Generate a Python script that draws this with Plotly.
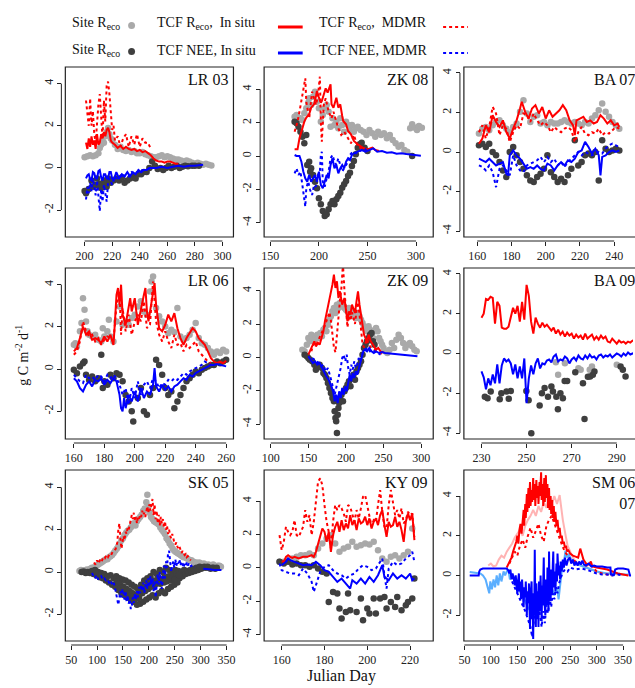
import plotly.graph_objects as go

# ---------------- LR 03 ----------------
lr03_site_reco = [(200,0.5),(202,0.55),(204,0.6),(206,0.55),(208,0.6),(210,0.7),(211,0.95),(212,1.1),(213,1.3),(214,1.2),(215,1.5),(216,1.7),(217,1.9),(218,1.6),(219,1.4),(220,1.3),(222,1.1),(224,0.9),(226,1.0),(228,0.85),(230,0.8),(232,0.85),(234,0.75),(236,0.8),(238,0.7),(240,0.7),(242,0.75),(244,0.65),(246,0.6),(248,0.55),(250,0.5),(252,0.5),(254,0.55),(256,0.6),(258,0.5),(260,0.55),(262,0.5),(264,0.45),(266,0.4),(268,0.4),(270,0.35),(272,0.3),(274,0.35),(276,0.3),(278,0.25),(280,0.2),(282,0.25),(284,0.2),(286,0.15),(288,0.2),(290,0.15),(292,0.12)]
lr03_site_nee = [(200,-1.1),(201,-1.2),(203,-1.0),(205,-0.6),(206,-0.9),(208,-0.8),(209,-0.5),(210,-0.85),(211,-0.75),(212,-0.95),(213,-0.8),(214,-0.6),(215,-0.8),(216,-0.9),(217,-0.5),(218,-0.65),(219,-0.7),(221,-0.6),(223,-0.5),(225,-0.6),(227,-0.45),(229,-0.7),(231,-0.6),(233,-0.5),(235,-0.4),(237,-0.5),(239,-0.3),(241,-0.3),(243,-0.2),(245,-0.2),(247,0.0),(249,0.3),(251,0.1),(253,-0.05),(255,0.0),(257,-0.1),(259,0.0),(261,0.1),(263,0.0),(265,0.05),(267,0.1),(269,0.0),(271,0.05),(273,0.1),(275,0.08),(278,0.1),(280,0.1),(283,0.1)]
lr03_tcf_reco = [(201,1.2),(202,0.9),(203,1.4),(204,1.0),(205,1.5),(206,1.1),(207,1.3),(208,0.9),(209,1.6),(210,1.1),(211,1.2),(212,1.6),(213,1.4),(214,1.7),(215,1.5),(216,1.8),(217,1.9),(218,1.7),(219,1.3),(220,1.2),(222,1.1),(224,0.95),(226,1.05),(228,0.9),(230,1.0),(232,0.9),(234,0.85),(236,0.9),(238,0.8),(240,0.85),(242,0.75),(244,0.8),(246,0.7),(248,0.6),(250,0.45),(252,0.35),(254,0.3),(256,0.3),(258,0.25),(260,0.3),(262,0.3),(264,0.25),(266,0.2),(268,0.2)]
lr03_mdmr_reco = [(201,3.2),(202,2.6),(203,2.0),(204,3.3),(205,2.0),(206,2.7),(207,1.6),(208,1.2),(209,2.2),(210,3.0),(211,3.5),(212,2.2),(213,1.4),(214,3.2),(215,2.2),(216,3.9),(217,4.1),(218,3.5),(219,2.5),(220,1.8),(221,2.0),(222,1.3),(224,1.5),(226,1.0),(228,1.4),(230,1.6),(232,1.0),(234,1.5),(236,1.1),(238,1.6),(240,1.0),(242,1.4),(244,1.2),(246,1.2),(248,0.9)]
lr03_tcf_nee = [(201,-0.5),(202,-0.35),(203,-0.3),(204,-0.55),(205,-0.6),(206,-0.2),(207,-0.25),(208,-0.5),(209,-0.5),(210,-0.15),(211,-0.1),(212,-0.45),(213,-0.6),(214,-0.3),(215,-0.3),(216,-0.5),(217,-0.5),(218,-0.2),(219,-0.2),(220,-0.5),(221,-0.6),(223,-0.2),(225,-0.5),(227,-0.3),(229,-0.4),(231,-0.2),(233,-0.4),(235,-0.2),(237,-0.3),(239,-0.1),(241,-0.2),(243,-0.1),(245,-0.1),(247,0.0),(249,0.0),(252,0.0),(256,0.05),(260,0.0),(264,0.05),(268,0.1),(272,0.05),(276,0.1),(280,0.1),(284,0.15),(286,0.15)]
lr03_mdmr_nee = [(201,-1.5),(202,-0.9),(203,-1.2),(204,-0.7),(205,-1.1),(206,-0.5),(207,-0.9),(208,-1.3),(209,-0.6),(210,-1.5),(211,-2.05),(212,-1.0),(213,-1.6),(214,-0.8),(215,-1.3),(216,-1.6),(217,-0.7),(218,-0.5),(220,-0.8),(222,-0.4),(224,-0.6),(226,-0.3),(228,-0.5),(230,-0.3),(232,-0.4),(234,-0.2),(236,-0.3),(238,-0.2),(240,-0.2),(242,-0.1),(244,-0.1),(246,-0.05),(248,0.0)]

# ---------------- ZK 08 ----------------
zk08_site_reco = [(175,2.36),(177,2.46),(179,2.2),(181,2.26),(183,2.16),(185,2.56),(187,2.86),(189,3.2),(190,3.46),(192,3.06),(194,3.56),(196,3.86),(198,3.26),(200,2.86),(202,2.06),(204,2.46),(206,2.86),(208,3.06),(210,2.66),(212,1.76),(214,2.26),(216,1.86),(218,2.06),(220,1.66),(222,2.26),(224,1.86),(226,1.46),(228,2.06),(230,1.86),(232,1.56),(234,1.86),(236,1.46),(238,1.66),(240,1.76),(243,1.56),(246,1.46),(249,1.26),(252,1.56),(255,1.36),(258,1.16),(261,1.46),(264,1.26),(267,1.36),(270,1.06),(273,1.26),(276,0.96),(279,0.76),(282,0.56),(285,0.66),(288,0.36),(291,0.26),(294,1.66),(296,1.9),(299,1.7),(301,1.56),(303,1.8),(306,1.7)]
zk08_site_nee = [(175,2.06),(177,1.96),(179,1.76),(181,1.46),(183,1.16),(185,0.76),(187,1.26),(188,-0.54),(190,-0.34),(191,-0.94),(192,-0.74),(194,-1.14),(196,-1.54),(198,-1.94),(200,-2.54),(202,-2.9),(204,-3.3),(206,-3.6),(208,-3.5),(210,-3.2),(212,-2.9),(214,-2.7),(216,-2.9),(218,-2.6),(220,-2.4),(222,-2.2),(224,-1.9),(226,-1.7),(228,-1.5),(230,-1.2),(232,-1.0),(234,-0.6),(236,-0.3),(238,0.1),(240,0.5),(242,0.7),(244,0.8),(247,0.5),(250,0.3),(296,0.0)]
zk08_tcf_reco = [(175,0.4),(178,0.4),(180,1.06),(182,1.5),(184,1.9),(185,2.06),(187,2.3),(190,2.5),(192,2.9),(195,3.1),(197,3.6),(198,3.9),(200,3.5),(202,3.2),(203,3.3),(205,3.7),(207,4.06),(209,3.8),(211,4.2),(212,4.3),(213,3.1),(215,2.9),(217,3.3),(218,3.5),(220,2.9),(222,3.1),(224,2.4),(225,2.1),(228,1.9),(230,1.5),(233,1.3),(236,0.9),(240,0.7),(245,0.5),(250,0.4),(255,0.5),(258,0.36),(262,0.3)]
zk08_mdmr_reco = [(175,1.46),(178,2.06),(180,2.66),(183,3.66),(186,4.66),(187,3.26),(190,2.26),(193,3.86),(195,3.46),(197,3.06),(199,3.6),(201,4.76),(202,2.06),(203,0.86),(205,3.06),(207,3.46),(210,2.66),(213,2.26),(215,2.66),(218,2.06),(220,1.66),(223,1.26),(226,1.46),(230,1.06),(233,0.76),(236,1.26),(240,0.56),(245,0.46),(250,0.26)]
zk08_tcf_nee = [(175,0.06),(177,0.0),(180,0.0),(182,-0.34),(184,-0.94),(186,-1.34),(188,-1.54),(190,-1.14),(192,-1.54),(194,-1.34),(196,-1.14),(198,-1.54),(200,-0.94),(202,-1.74),(204,-1.94),(206,-1.54),(208,-1.14),(210,-1.34),(212,-0.54),(214,-0.14),(216,-0.74),(218,-0.54),(220,-1.04),(222,-0.74),(224,-0.54),(226,-0.74),(228,-0.34),(230,-0.14),(232,-0.24),(234,0.06),(236,0.16),(240,0.26),(244,0.36),(248,0.26),(252,0.36),(256,0.46),(260,0.26),(265,0.3),(270,0.2),(275,0.22),(280,0.14),(285,0.16),(290,0.12),(295,0.1),(300,0.06),(305,0.02)]
zk08_mdmr_nee = [(175,-1.04),(177,-0.74),(179,-1.14),(181,-0.94),(183,-1.74),(186,-3.04),(187,-1.94),(189,-1.54),(191,-2.04),(193,-2.34),(195,-1.74),(197,-1.84),(199,-1.14),(201,-0.94),(202,0.06),(203,0.26),(204,-1.54),(206,-1.84),(208,-1.34),(210,-0.94),(212,-0.14),(214,0.06),(216,-0.34),(218,-0.54),(220,-0.14),(222,-0.54),(224,-0.94),(226,-0.74),(228,-0.54),(230,-0.34),(232,0.06),(235,0.26),(238,0.16),(241,0.26),(244,0.36),(247,0.46),(250,0.26)]

# ---------------- BA 07 ----------------
ba07_site_reco = [(161,0.93),(163,1.18),(165,1.27),(167,1.1),(169,1.35),(171,1.52),(173,1.6),(175,1.35),(177,1.18),(179,1.0),(181,1.27),(183,1.44),(185,2.03),(187,2.62),(189,1.95),(191,1.52),(193,1.78),(195,1.86),(197,1.44),(199,1.52),(201,1.35),(203,1.52),(205,1.44),(207,1.44),(209,1.52),(211,1.6),(213,1.52),(215,1.44),(217,1.52),(219,1.44),(221,1.35),(223,1.52),(225,1.44),(227,1.69),(229,1.86),(231,2.11),(233,2.45),(235,2.03),(237,1.78),(239,1.52),(241,1.35),(243,1.18)]
ba07_site_nee = [(161,0.34),(163,0.42),(165,0.25),(167,0.42),(169,0.0),(171,-0.17),(173,-0.51),(175,-0.93),(177,-1.27),(179,0.0),(181,0.25),(183,-0.17),(185,-0.51),(187,-0.85),(189,-1.18),(191,-1.44),(193,-1.52),(195,-1.27),(197,-1.1),(199,-0.85),(201,-0.17),(203,-1.02),(205,-1.27),(207,-1.52),(209,-1.35),(211,-1.52),(213,-1.18),(215,-0.85),(217,0.59),(219,-0.68),(221,-0.51),(223,-0.17),(225,-0.08),(227,-0.17),(229,0.0),(231,-1.44),(233,0.59),(235,0.17),(237,0.0),(239,0.08),(241,0.17),(243,0.08)]
ba07_tcf_reco = [(161,0.42),(163,0.68),(165,1.35),(167,1.0),(169,1.86),(171,1.52),(173,1.27),(175,1.6),(177,1.0),(179,0.68),(181,1.18),(183,1.6),(185,2.2),(186,2.54),(188,2.03),(190,1.69),(192,2.2),(194,2.37),(196,1.95),(198,2.28),(200,1.69),(202,2.11),(204,1.78),(206,1.95),(208,2.11),(210,2.37),(212,2.11),(214,1.6),(216,1.35),(217,0.85),(218,1.6),(220,1.69),(222,1.78),(224,1.52),(226,1.6),(228,1.44),(230,1.52),(232,1.86),(234,1.69),(236,1.44),(238,1.6),(240,1.35),(242,1.44),(243,1.27)]
ba07_mdmr_reco = [(161,1.0),(163,1.35),(165,0.68),(167,1.27),(169,2.28),(171,1.95),(173,0.85),(175,1.35),(177,1.18),(179,0.5),(181,1.0),(183,1.35),(185,1.18),(187,1.95),(189,1.86),(191,1.52),(193,1.95),(195,1.6),(197,1.35),(199,1.52),(201,1.35),(203,1.0),(205,1.27),(207,1.1),(209,1.0),(211,1.18),(213,1.27),(215,1.1),(217,0.5),(219,1.0),(221,1.27),(223,0.93),(225,0.85),(227,1.0),(229,0.93),(231,1.18),(233,0.85),(235,1.0),(237,0.93),(239,1.1),(241,1.27),(243,1.18)]
ba07_tcf_nee = [(161,-0.34),(163,-0.42),(165,-0.51),(167,-0.34),(169,-0.51),(171,-0.68),(173,-0.59),(175,-0.51),(177,-1.1),(178,-1.18),(179,-0.17),(181,0.08),(183,-0.17),(185,-0.34),(187,-0.59),(189,-0.85),(191,-0.76),(193,-0.85),(195,-0.68),(197,-0.85),(199,-0.93),(201,-0.59),(203,-0.68),(205,-0.93),(207,-0.68),(209,-0.51),(211,-0.68),(213,-0.42),(215,-0.51),(217,-0.34),(219,0.0),(221,0.08),(223,0.51),(225,0.25),(227,-0.08),(229,0.17),(231,-0.17),(232,-1.18),(233,-0.25),(235,-0.17),(237,0.0),(239,0.08),(241,0.0),(243,0.08)]
ba07_mdmr_nee = [(161,-0.68),(163,-0.76),(165,-0.93),(167,-0.68),(169,-1.02),(171,-1.78),(173,-0.85),(175,-0.68),(177,-0.93),(179,-1.18),(181,-0.17),(183,-0.68),(185,-0.93),(187,-1.02),(189,-0.68),(191,-0.59),(193,-0.51),(195,-0.42),(197,-0.25),(199,-0.51),(201,-0.25),(203,-0.51),(205,-0.34),(207,-0.68),(209,-0.51),(211,-0.76),(213,-0.51),(215,-0.34),(217,-0.17),(219,0.0),(221,-0.17),(223,0.0),(225,-0.08),(227,-0.17),(229,-0.08),(231,0.0),(233,-0.08),(235,0.17),(237,0.34),(239,0.42),(241,0.34),(243,0.25)]

# ---------------- LR 06 ----------------
lr06_site_reco = [(160,1.15),(161,1.23),(162,1.07),(164,1.79),(165,2.18),(166,3.36),(167,2.81),(168,2.26),(169,1.79),(170,1.63),(172,1.55),(174,1.63),(176,1.39),(178,1.31),(179,1.94),(180,1.55),(182,1.79),(183,2.34),(184,1.55),(186,1.31),(188,2.26),(190,2.97),(192,2.1),(194,2.26),(196,2.1),(198,2.42),(200,2.58),(202,2.97),(204,3.21),(206,2.73),(208,2.58),(210,3.68),(211,4.15),(212,4.39),(214,2.89),(216,2.5),(218,2.26),(220,2.02),(222,1.7),(224,1.86),(226,1.75),(228,2.89),(230,1.55),(232,1.39),(234,1.47),(236,1.63),(238,1.86),(240,2.18),(242,1.47),(244,1.23),(246,1.15),(248,1.0),(250,0.84),(252,0.68),(254,0.84),(256,0.76),(258,0.92),(260,0.84)]
lr06_site_nee = [(160,-0.03),(162,-0.19),(164,0.13),(166,0.28),(167,0.36),(168,-0.27),(170,-0.51),(172,-0.35),(174,-0.58),(176,-0.43),(178,0.68),(179,-0.9),(180,-0.58),(182,-0.74),(184,-0.27),(186,-0.43),(188,-0.19),(190,-0.27),(192,-0.58),(194,-1.22),(196,-1.53),(198,-2.0),(199,-2.48),(202,-1.37),(204,-0.9),(206,-2.0),(208,-2.16),(210,-1.22),(212,-0.9),(214,0.44),(216,0.2),(218,-0.27),(220,-0.9),(222,-1.22),(224,-1.06),(226,-1.85),(228,-1.53),(230,-1.22),(232,-0.9),(234,-0.58),(236,-0.43),(238,-0.27),(240,-0.11),(242,-0.19),(244,-0.03),(246,0.05),(248,0.13),(250,0.2),(252,0.2),(254,0.36),(256,0.28),(258,0.36),(260,0.44)]
lr06_tcf_reco = [(160,0.84),(162,1.0),(164,1.47),(165,1.7),(166,2.02),(168,1.63),(170,1.79),(172,1.39),(174,1.47),(176,1.39),(178,1.23),(180,1.55),(182,1.31),(184,1.63),(186,1.15),(187,2.26),(188,3.52),(189,3.84),(190,3.05),(191,4.0),(192,2.58),(194,2.1),(196,3.05),(197,3.36),(198,2.73),(200,3.36),(202,2.1),(204,2.89),(206,3.52),(207,3.84),(208,2.73),(209,2.26),(210,2.73),(212,3.68),(213,4.08),(214,3.05),(216,1.94),(218,1.79),(220,2.1),(222,2.58),(224,2.26),(226,2.65),(228,1.94),(230,1.47),(232,1.15),(234,1.47),(236,1.7),(238,1.94),(240,1.79),(242,1.47),(244,1.31),(246,1.15),(248,0.84),(250,0.52),(252,0.36),(254,0.28),(256,0.36),(258,0.28),(260,0.39)]
lr06_mdmr_reco = [(160,0.68),(162,0.84),(164,1.31),(166,2.26),(168,1.79),(170,1.55),(172,1.63),(174,1.31),(176,1.47),(178,1.15),(180,1.39),(182,1.55),(184,1.47),(186,1.31),(188,3.05),(190,3.68),(191,1.63),(192,2.89),(194,1.79),(196,2.58),(198,1.63),(200,2.26),(202,2.58),(204,2.26),(206,3.21),(208,1.94),(210,2.1),(212,4.15),(214,2.26),(216,1.63),(218,1.31),(220,1.79),(222,1.31),(224,1.0),(226,1.63),(228,1.15),(230,1.23),(232,0.84),(234,1.15),(236,1.0),(238,1.15),(240,1.31),(242,0.84),(244,0.68),(246,0.52),(248,0.36),(250,0.28)]
lr06_tcf_nee = [(160,-0.43),(162,-0.58),(164,-0.9),(166,-1.06),(168,-0.74),(170,-0.58),(172,-0.82),(174,-0.51),(176,-0.58),(178,-0.43),(180,-0.74),(182,-0.51),(184,-0.66),(186,-0.43),(188,-0.58),(190,-1.22),(191,-1.85),(192,-2.0),(193,-1.37),(194,-1.85),(196,-1.22),(198,-1.53),(200,-1.06),(202,-1.53),(204,-0.9),(206,-1.37),(208,-1.06),(210,-1.22),(212,-0.74),(213,0.05),(214,-0.82),(216,-1.06),(218,-0.74),(220,-0.98),(222,-0.82),(224,-1.06),(226,-0.82),(228,-0.74),(230,-0.58),(232,-0.43),(234,-0.51),(236,-0.27),(238,-0.35),(240,-0.19),(242,-0.11),(244,-0.03),(246,0.05),(248,0.13),(250,0.2),(252,0.2),(254,0.24),(256,0.2),(258,0.16),(260,0.13)]
lr06_mdmr_nee = [(160,-0.27),(162,-0.43),(164,-0.58),(166,-0.66),(168,-0.27),(170,-0.43),(172,-0.35),(174,-0.51),(176,-0.27),(178,-0.35),(180,-0.58),(182,-0.27),(184,-0.43),(186,-0.27),(188,-0.43),(190,-0.74),(192,-1.22),(194,-0.9),(196,-1.69),(198,-0.9),(200,-1.37),(202,-0.58),(204,-1.22),(206,-0.74),(208,-0.58),(210,-0.9),(212,-0.43),(214,-0.58),(216,-0.9),(218,-0.66),(220,-0.74),(222,-0.51),(224,-0.58),(226,-0.43),(228,-0.51),(230,-0.35),(232,-0.19),(234,-0.27),(236,-0.11),(238,-0.03),(240,0.05),(242,0.13),(244,0.2),(246,0.36),(248,0.28),(250,0.2)]

# ---------------- ZK 09 ----------------
zk09_site_reco = [(142,0.46),(145,0.36),(148,0.76),(150,1.16),(152,0.96),(154,1.36),(156,1.16),(158,1.06),(160,1.26),(162,1.36),(164,1.16),(166,1.46),(168,1.26),(170,1.66),(172,1.76),(174,1.56),(176,1.96),(178,2.26),(180,2.46),(182,2.76),(184,2.96),(186,2.66),(188,3.16),(190,2.96),(192,3.26),(194,3.06),(196,3.16),(198,2.96),(200,2.86),(202,2.76),(204,2.96),(206,2.66),(208,2.46),(210,2.76),(212,2.56),(214,2.36),(216,2.66),(218,2.46),(220,2.26),(222,2.06),(224,1.86),(226,1.66),(228,1.56),(230,1.86),(232,1.66),(234,1.36),(236,1.16),(238,1.56),(240,1.76),(242,1.56),(244,1.16),(246,0.96),(248,0.76),(250,0.56),(252,0.36),(255,0.26),(258,0.46),(261,0.86),(264,0.56),(267,1.06),(270,1.36),(273,1.16),(276,0.86),(279,0.56),(282,0.76),(285,0.86),(288,0.66),(291,0.46),(294,0.36)]
zk09_site_nee = [(145,0.16),(148,0.06),(150,-0.04),(152,-0.14),(155,-0.24),(158,-0.44),(160,-0.74),(162,-0.54),(165,-0.44),(168,-0.64),(170,-0.94),(172,-1.04),(174,-1.24),(176,-1.54),(178,-1.84),(180,-2.14),(182,-2.44),(184,-2.64),(185,-3.24),(186,-3.64),(187,-3.84),(188,-4.54),(189,-3.44),(190,-3.04),(191,-2.74),(192,-2.44),(194,-2.24),(196,-2.64),(198,-2.04),(200,-1.84),(202,-1.64),(204,-1.44),(206,-1.74),(208,-1.24),(210,-1.04),(212,-1.34),(214,-0.84),(216,-0.64),(218,-0.44),(220,-0.24),(222,0.16),(224,0.56),(226,0.76),(228,0.96),(230,1.16),(232,1.36),(234,1.46),(236,0.96),(238,0.76)]
zk09_tcf_reco = [(150,0.16),(152,0.36),(155,0.66),(158,0.96),(160,0.66),(163,0.86),(165,0.76),(168,1.16),(170,1.56),(172,2.16),(175,2.76),(178,3.36),(180,3.96),(182,4.36),(184,4.96),(186,4.16),(188,4.56),(190,3.56),(192,3.96),(195,3.16),(198,3.56),(200,2.66),(202,2.16),(204,2.76),(206,2.56),(208,3.16),(210,2.96),(212,2.66),(214,3.36),(216,3.96),(218,3.16),(220,2.56),(222,1.76),(224,1.36),(226,1.16),(228,0.86),(230,1.36),(233,0.96),(236,0.76),(240,0.46),(243,0.56),(246,0.36),(250,0.3)]
zk09_mdmr_reco = [(154,0.36),(157,0.8),(160,0.7),(163,1.0),(166,1.2),(169,1.5),(172,1.9),(175,2.3),(178,2.7),(180,2.2),(182,1.5),(184,0.6),(186,0.3),(188,1.5),(190,2.6),(192,3.4),(194,4.2),(196,5.6),(198,4.0),(200,2.8),(202,1.8),(204,2.5),(206,2.2),(208,2.7),(210,2.4),(212,2.0),(214,2.8),(216,3.3),(218,2.6),(220,1.6),(222,0.8),(224,0.6),(226,0.9),(228,1.1),(230,0.8),(233,0.6),(236,0.5),(240,0.4),(244,0.3),(248,0.2)]
zk09_tcf_nee = [(150,0.06),(153,-0.14),(156,-0.34),(159,-0.24),(162,-0.44),(165,-0.34),(168,-0.64),(171,-0.84),(174,-1.14),(177,-1.34),(180,-1.64),(183,-2.04),(185,-2.64),(187,-2.24),(189,-2.74),(191,-2.04),(193,-2.44),(195,-1.84),(197,-2.24),(199,-1.74),(201,-2.04),(203,-1.44),(205,-1.04),(207,-1.44),(209,-0.94),(211,-1.24),(213,-0.84),(215,-1.04),(217,-0.64),(219,-0.44),(221,-0.04),(223,0.36),(225,0.46),(228,0.36),(231,0.56),(234,0.36),(237,0.26),(240,0.36),(244,0.26),(248,0.32),(252,0.26),(256,0.24),(260,0.26),(265,0.22),(270,0.2),(275,0.16),(280,0.16),(285,0.12),(290,0.1),(295,0.06)]
zk09_mdmr_nee = [(155,-0.04),(158,-0.14),(161,-0.24),(164,-0.34),(167,-0.54),(170,-0.44),(173,-0.84),(176,-0.64),(179,-1.14),(181,-1.44),(183,-1.84),(185,-2.24),(187,-1.84),(189,-1.44),(191,-1.04),(193,-0.64),(195,-0.04),(197,0.16),(199,-0.24),(201,0.16),(203,-0.64),(205,-1.04),(207,-0.44),(209,-0.74),(211,-0.24),(213,-0.64),(215,-0.44),(217,-0.04),(219,-0.24),(221,0.16),(223,0.36),(226,0.46),(229,0.56),(232,0.36),(235,0.46),(238,0.36),(242,0.26),(246,0.16)]

# ---------------- BA 09 ----------------
ba09_site_reco = [(263,-0.44),(264,-1.07),(267,-0.49),(273,-0.74),(274,-0.82),(278,-0.82),(279,-0.65),(290,-0.57)]
ba09_site_nee = [(231.5,-2.17),(232.7,-2.25),(234.1,-1.91),(238.1,-2.3),(238.8,-2.0),(241.1,-1.91),(242.1,-2.28),(243,-1.88),(249.9,-1.88),(250.9,-2.35),(252.1,-4.01),(255.8,-2.62),(256.8,-2.0),(258,-1.74),(259.5,-2.17),(261,-1.66),(261.7,-1.91),(263.2,-2.17),(263.9,-2.8),(265,-2.0),(266.1,-2.25),(266.9,-1.38),(268,-1.38),(271.6,-0.94),(275,-1.49),(275.7,-3.29),(277.2,-1.17),(278.2,-1.16),(279.4,-1.07),(280.1,-0.9),(291.7,-0.65),(292.7,-0.82),(293.9,-1.16)]
ba09_tcf_reco = [(230,1.8),(231,2.0),(232,2.75),(233,2.7),(234,2.85),(235,2.8),(236,1.5),(237,2.6),(238,2.4),(239,1.3),(240,1.25),(241,1.25),(242,1.35),(243,1.9),(244,2.3),(245,2.0),(246,2.4),(247,1.6),(248,2.6),(249,1.7),(250,3.45),(251,2.9),(252,1.6),(253,1.0),(254,1.8),(255,1.5),(256,1.3),(257,1.55),(258,1.35),(259,1.45),(260,1.3),(261,1.15),(262,1.3),(263,1.0),(264,1.2),(265,0.95),(266,1.1),(267,0.85),(268,1.05),(269,0.9),(270,1.0),(271,0.75),(272,0.95),(273,0.8),(274,0.9),(275,0.7),(276,1.0),(277,0.75),(278,0.85),(279,0.95),(280,0.7),(281,0.85),(282,0.7),(283,0.9),(284,0.75),(285,0.85),(286,0.6),(287,0.55),(288,0.75),(289,0.6),(290,0.5),(291,0.65),(292,0.55),(293,0.6),(294,0.5),(295,0.6),(296,0.55),(297,0.65),(298,0.6)]
ba09_tcf_nee = [(230,-0.9),(231,-1.2),(232,-1.8),(233,-1.25),(234,-1.6),(235,-1.05),(236,-1.5),(237,-0.55),(238,-1.5),(239,-0.6),(240,-0.25),(241,-0.4),(242,-0.3),(243,-0.5),(244,-1.05),(245,-0.55),(246,-1.25),(247,-0.65),(248,-1.25),(249,-0.25),(250,-2.5),(251,-1.25),(252,-0.6),(253,-1.05),(254,-0.5),(255,-0.25),(256,-0.75),(257,-0.5),(258,-0.55),(259,-0.35),(260,-0.3),(261,-0.45),(262,-0.15),(263,-0.05),(264,-0.4),(265,-0.3),(266,-0.35),(267,-0.15),(268,-0.25),(269,-0.5),(270,-0.3),(271,-0.2),(272,-0.35),(273,-0.1),(274,-0.25),(275,-0.3),(276,-0.1),(277,-0.25),(278,-0.05),(279,-0.2),(280,-0.15),(281,-0.3),(282,-0.1),(283,-0.05),(284,-0.2),(285,-0.1),(286,-0.15),(287,-0.05),(288,-0.2),(289,-0.1),(290,0.0),(291,-0.05),(292,-0.15),(293,0.0),(294,-0.1),(295,0.05),(296,-0.05),(297,0.0),(298,0.05)]

# ---------------- SK 05 ----------------
sk05_site_reco = [(66,0.05),(69,0.1),(72,0.05),(75,0.08),(78,0.1),(81,0.12),(84,0.1),(87,0.15),(90,0.2),(93,0.18),(96,0.25),(99,0.3),(102,0.35),(105,0.4),(108,0.45),(111,0.5),(114,0.55),(117,0.6),(120,0.6),(123,0.7),(126,0.75),(129,0.8),(132,0.9),(135,1.0),(138,1.1),(141,1.2),(144,1.35),(147,1.5),(150,1.6),(153,1.75),(156,1.85),(159,1.95),(162,2.0),(165,2.1),(168,2.2),(171,2.3),(174,2.2),(177,2.4),(180,2.5),(183,2.6),(186,2.7),(189,2.9),(192,3.0),(195,3.3),(197,3.65),(199,3.1),(201,2.8),(204,2.6),(207,2.5),(210,2.4),(213,2.35),(216,2.3),(219,2.25),(222,2.1),(225,2.0),(228,1.9),(231,1.8),(234,1.6),(237,1.5),(240,1.35),(243,1.25),(246,1.1),(249,1.0),(252,0.95),(255,0.9),(258,0.85),(261,0.8),(264,0.75),(267,0.7),(270,0.7),(273,0.65),(276,0.6),(279,0.55),(282,0.55),(285,0.5),(288,0.45),(291,0.45),(294,0.4),(297,0.45),(300,0.4),(303,0.35),(306,0.4),(309,0.35),(312,0.3),(315,0.35),(318,0.3),(321,0.3),(324,0.35),(327,0.3),(330,0.25),(333,0.3),(336,0.3),(339,0.25)]
sk05_site_nee = [(70,0.0),(74,0.02),(78,-0.05),(82,0.0),(86,-0.05),(90,0.05),(93,-0.1),(96,0.1),(99,-0.15),(102,0.0),(105,-0.25),(108,-0.05),(111,-0.3),(114,-0.1),(117,-0.4),(120,-0.2),(123,-0.5),(126,-0.15),(129,-0.6),(132,-0.3),(135,-0.7),(137,-0.2),(139,-0.5),(141,-0.85),(143,-0.3),(145,-0.6),(147,-1.0),(149,-0.35),(151,-0.7),(153,-1.1),(155,-0.4),(157,-0.8),(159,-1.2),(161,-0.5),(163,-0.9),(165,-1.3),(167,-0.6),(169,-1.0),(171,-1.4),(173,-0.7),(175,-1.1),(177,-1.55),(179,-0.8),(181,-1.2),(183,-1.5),(185,-0.6),(187,-1.0),(189,-1.4),(191,-0.4),(193,-0.9),(195,-1.3),(197,-0.3),(199,-0.8),(201,-1.2),(203,-0.2),(205,-0.7),(207,-1.1),(209,0.0),(211,-0.6),(213,-1.2),(215,-0.1),(217,-0.5),(219,-1.0),(221,0.1),(223,-0.4),(225,-0.9),(227,0.0),(229,-0.5),(231,-1.0),(233,0.2),(235,-0.3),(237,-0.8),(239,0.1),(241,-0.4),(243,-0.7),(245,0.0),(247,-0.3),(249,-0.6),(251,0.1),(253,-0.2),(255,-0.5),(257,0.05),(259,-0.3),(262,0.0),(265,-0.2),(268,0.1),(271,-0.1),(274,0.05),(277,-0.05),(280,0.1),(283,0.0),(286,0.15),(289,0.05),(292,0.2),(295,0.1),(298,0.25),(301,0.15),(304,0.2),(307,0.25),(310,0.2),(313,0.25),(316,0.2),(319,0.15),(322,0.2),(325,0.2),(328,0.15),(331,0.2),
                 (138,-0.45),(142,-0.55),(146,-0.75),(150,-0.85),(154,-0.95),(158,-1.0),(162,-1.05),(166,-1.0),(170,-1.15),(174,-1.2),(178,-1.25),(182,-1.0),(186,-0.85),(190,-0.75),(194,-0.7),(198,-0.55),(202,-0.6),(206,-0.45),(210,-0.4),(214,-0.55),(218,-0.3),(222,-0.55),(226,-0.35),(230,-0.25),(234,-0.45),(238,-0.2),(242,-0.25),(246,-0.15),(250,-0.35),(254,-0.1),(258,-0.15)]
sk05_mdmr_reco = [(94,0.45),(97,0.35),(100,0.55),(103,0.4),(106,0.6),(109,0.5),(112,0.7),(115,0.65),(118,0.8),(121,0.7),(124,0.85),(127,0.8),(130,0.95),(133,1.0),(136,1.1),(139,1.4),(141,2.0),(143,2.3),(145,1.6),(147,1.1),(149,1.4),(151,1.7),(153,1.5),(155,1.9),(157,1.8),(159,2.1),(161,2.0),(163,2.3),(165,2.4),(167,2.7),(169,2.5),(171,2.8),(173,2.4),(175,2.6),(177,2.3),(179,2.6),(181,2.5),(183,2.7),(185,2.6),(187,2.9),(189,2.7),(191,2.8),(193,2.6),(195,2.9),(197,3.1),(199,2.8),(201,3.2),(203,2.9),(205,3.3),(207,3.45),(209,2.7),(211,3.2),(213,2.5),(215,2.9),(217,2.3),(219,2.7),(221,2.2),(223,2.6),(225,2.3),(227,2.5),(229,2.1),(231,2.4),(233,2.0),(235,2.2),(237,1.8),(239,2.0),(241,1.7),(243,1.6),(245,1.8),(247,1.5),(249,1.4),(251,1.3),(253,1.4),(255,1.2),(257,1.1),(259,1.2),(261,1.0),(263,0.9),(265,1.0),(267,0.85),(269,0.8),(271,0.85),(273,0.7),(275,0.75),(277,0.65),(279,0.6),(281,0.55)]
sk05_mdmr_nee = [(90,-0.05),(93,-0.2),(96,-0.3),(99,-0.15),(102,-0.35),(105,-0.25),(108,-0.2),(111,-0.35),(114,-0.3),(117,-0.4),(120,-0.35),(123,-0.5),(126,-0.4),(129,-0.6),(132,-0.5),(135,-0.8),(137,-1.0),(139,-1.3),(141,-1.55),(143,-1.1),(145,-0.9),(147,-1.2),(149,-0.8),(151,-1.0),(153,-1.3),(155,-0.9),(157,-1.4),(159,-1.1),(161,-1.5),(163,-1.3),(165,-1.75),(167,-1.6),(169,-1.2),(171,-1.45),(173,-1.0),(175,-1.3),(177,-0.9),(179,-1.2),(181,-0.7),(183,-1.0),(185,-0.6),(187,-0.9),(189,-0.5),(191,-1.0),(193,-0.6),(195,-0.4),(197,-0.8),(199,-0.3),(201,-0.7),(203,-0.2),(205,-0.6),(207,-0.3),(209,-0.9),(211,-0.4),(213,-1.2),(215,-0.5),(217,-0.1),(219,-0.6),(221,0.0),(223,-0.4),(225,-0.8),(227,-0.2),(229,0.3),(231,-0.3),(233,0.5),(235,0.2),(237,0.9),(239,1.0),(241,0.4),(243,0.0),(245,0.3),(247,0.5),(249,0.2),(251,0.6),(253,0.3),(255,0.5),(257,0.4),(259,0.6),(261,0.3),(263,0.5),(265,0.4),(267,0.2),(269,0.4),(271,0.3),(273,0.45),(275,0.3),(277,0.4),(279,0.25),(282,0.3),(285,0.2),(288,0.25)]
sk05_tcf_nee = [(305,0.15),(310,0.15),(315,0.12),(320,0.12),(325,0.1),(330,0.1),(335,0.1),(340,0.1)]

# ---------------- KY 09 ----------------
ky09_site_reco = [(159,0.36),(161,0.36),(163,0.46),(165,0.56),(167,0.66),(169,0.76),(171,0.76),(173,0.86),(175,0.76),(177,1.16),(179,1.46),(181,1.76),(183,1.96),(185,1.46),(187,0.96),(189,1.16),(191,1.26),(193,1.56),(195,1.26),(197,1.36),(199,1.46),(201,1.4),(203,1.56),(205,1.06),(207,0.56),(209,0.36),(211,0.66),(213,0.76),(215,0.56),(217,0.76),(219,0.96),(221,2.36)]
ky09_site_nee = [(159,0.36),(161,0.26),(163,0.36),(165,0.2),(167,0.26),(169,0.16),(171,0.16),(173,0.06),(175,0.16),(177,-0.04),(179,-0.24),(181,-0.34),(182,-2.04),(184,-1.44),(186,-1.54),(187,-2.44),(188,-3.04),(190,-2.64),(191,-1.54),(192,-2.54),(195,-2.64),(197,-1.84),(198,-3.14),(200,-2.44),(201,-2.74),(203,-1.84),(204,-2.74),(206,-1.84),(208,-1.74),(209,-2.44),(211,-2.04),(213,-2.34),(214,-1.74),(216,-2.54),(218,-2.24),(219,-2.04),(221,-1.84),(222,-0.64)]
ky09_tcf_reco = [(160,0.4),(161,0.36),(162,0.66),(163,0.76),(164,0.66),(165,0.6),(166,0.66),(168,0.56),(170,0.66),(172,0.66),(174,0.76),(175,0.66),(176,0.96),(177,1.46),(178,1.96),(179,2.36),(180,2.16),(181,1.56),(182,2.16),(183,0.96),(184,1.96),(185,2.46),(186,2.76),(187,2.16),(188,2.86),(189,2.26),(190,2.66),(191,2.36),(192,3.16),(193,2.56),(194,2.86),(195,2.26),(196,2.96),(197,2.66),(198,2.76),(199,3.06),(200,2.56),(201,2.96),(202,2.36),(203,2.76),(204,2.96),(205,2.56),(206,3.16),(207,3.46),(208,2.56),(209,1.86),(210,2.76),(211,2.46),(212,2.56),(213,3.06),(214,2.46),(215,2.76),(216,2.26),(217,1.56),(218,2.76),(219,3.26),(220,2.86),(221,3.26),(222,1.66)]
ky09_mdmr_reco = [(159,1.96),(160,1.06),(161,1.56),(162,2.46),(163,2.16),(164,1.96),(165,2.16),(166,2.86),(167,1.96),(168,1.86),(169,2.16),(170,2.46),(171,3.46),(172,2.76),(173,3.16),(174,1.96),(175,2.76),(176,4.16),(177,5.16),(178,5.36),(179,4.96),(180,3.76),(181,2.76),(182,2.16),(183,1.16),(184,2.76),(185,3.76),(186,3.46),(187,3.76),(188,3.56),(189,3.26),(190,2.76),(191,3.76),(192,3.66),(193,3.16),(194,2.76),(195,3.46),(196,2.96),(197,3.56),(198,4.26),(199,4.36),(200,3.76),(201,3.26),(202,2.46),(203,2.86),(204,2.76),(205,3.76),(206,4.66),(207,3.36),(208,2.46),(209,2.36),(210,3.76),(211,4.66),(212,3.96),(213,3.16),(214,3.46),(215,2.96),(216,3.56),(217,2.66),(218,2.86),(219,3.36),(220,3.16),(221,3.26),(222,1.86)]
ky09_tcf_nee = [(160,0.16),(162,0.36),(163,0.56),(164,0.46),(166,0.36),(168,0.26),(170,0.16),(172,0.2),(174,0.16),(176,0.36),(178,0.16),(180,-0.14),(182,-0.24),(184,-0.54),(186,-0.84),(188,-0.64),(190,-0.94),(192,-1.24),(193,-0.74),(195,-0.94),(197,-0.64),(199,-0.94),(201,-0.54),(203,-0.84),(205,-0.44),(207,0.16),(208,-0.54),(210,-0.74),(212,-0.34),(214,-0.64),(216,-0.44),(218,-0.64),(220,-0.34),(221,-0.74),(222,-0.64)]
ky09_mdmr_nee = [(159,0.26),(160,-0.14),(162,-0.24),(164,-0.34),(166,-0.34),(168,-0.44),(170,-0.04),(172,-0.34),(174,-0.84),(175,-1.44),(176,-1.04),(178,-0.24),(180,0.06),(182,0.16),(184,-0.14),(186,-0.34),(188,-0.44),(190,-0.64),(192,-0.44),(194,-0.34),(196,-0.04),(198,0.16),(200,0.06),(202,-0.14),(204,-0.04),(206,0.36),(207,0.56),(208,-0.44),(209,-1.24),(210,-0.04),(212,0.36),(214,0.16),(216,0.26),(218,0.56),(220,0.76),(221,0.96),(222,0.36)]

# ---------------- SM 06 / 07 ----------------
sm06_tcf_reco = [(130,0.4),(133,0.55),(136,0.75),(139,0.9),(142,1.2),(145,1.4),(148,1.7),(150,2.0),(152,1.6),(154,2.3),(156,2.6),(158,2.1),(160,2.8),(162,3.3),(163,2.5),(165,3.6),(166,2.9),(168,4.1),(169,3.2),(171,4.4),(172,3.4),(174,4.7),(175,3.5),(177,4.3),(178,3.7),(180,4.9),(181,3.8),(183,4.6),(184,3.5),(186,4.8),(187,3.9),(189,4.5),(190,3.6),(192,4.7),(193,4.0),(195,5.2),(196,3.8),(198,4.6),(199,3.5),(201,4.9),(202,3.7),(204,5.05),(205,3.9),(207,4.6),(208,3.4),(210,4.4),(211,3.3),(213,4.0),(214,3.1),(216,3.8),(217,2.9),(219,3.5),(220,2.7),(222,3.2),(224,2.5),(226,2.8),(228,2.2),(230,2.4),(232,1.9),(234,2.0),(236,1.6),(238,1.7),(240,1.4),(242,1.5),(244,1.2),(246,1.3),(250,1.1),(255,1.0),(260,0.95),(265,0.9),(269,1.35),(272,1.1),(275,0.8),(280,0.6),(285,0.55),(289,0.7),(292,0.45),(300,0.4),(310,0.35),(320,0.3),(330,0.2),(340,0.1),(350,0.05),(360,0.0)]
sm06_mdmr_reco = [(135,0.6),(140,0.9),(145,1.2),(150,1.0),(155,1.5),(160,1.8),(165,1.4),(170,2.0),(175,2.4),(180,1.9),(185,2.3),(190,2.6),(195,2.0),(200,1.7),(205,2.5),(210,2.8),(215,3.0),(220,2.6),(225,2.2),(230,1.8),(235,1.5),(240,1.2),(245,1.0),(250,0.8),(260,0.7),(270,0.6),(280,0.5),(290,0.5),(300,0.2),(310,0.1),(320,0.05),(330,0.0)]
sm07_tcf_reco = [(95,0.5),(100,0.6),(105,0.45),(110,0.5),(115,0.8),(120,1.0),(125,0.9),(130,1.2),(135,1.4),(140,1.6),(145,1.9),(150,2.1),(155,2.3),(160,2.0),(165,2.5),(170,2.8),(175,3.0),(180,3.3),(185,3.0),(190,3.5),(195,3.2),(200,3.7),(205,3.4),(210,3.9),(215,3.6),(220,4.0),(225,3.6),(230,4.05),(233,3.4),(236,2.8),(240,2.2),(245,1.5),(250,1.2),(255,0.9),(260,0.7),(265,0.6),(270,0.5),(280,0.4),(290,0.3),(300,0.2),(310,0.1),(320,0.1),(330,0.1),(340,0.05),(350,0.05),(360,0.0)]
sm06_tcf_nee = [(60,0.0),(70,0.0),(77,0.0),(78,0.2),(80,0.3),(85,0.35),(90,0.35),(100,0.35),(110,0.35),(120,0.35),(130,0.35),(133,0.25),(135,0.1),(137,0.3),(139,-0.2),(141,0.1),(143,-0.1),(145,-0.5),(147,0.0),(148,-0.3),(150,-0.9),(151,-0.4),(153,0.1),(154,-0.8),(156,-0.3),(157,-1.2),(159,-0.2),(160,-0.7),(162,-1.6),(163,-0.6),(165,-1.1),(166,-0.3),(168,-2.0),(169,-0.8),(171,-1.4),(172,-0.4),(174,-2.7),(175,-1.0),(177,-0.3),(178,-2.2),(179,-1.2),(180,-3.2),(181,-0.9),(182,-2.0),(183,1.3),(184,-1.5),(185,-2.6),(186,-0.4),(188,-2.2),(189,-0.8),(190,-2.6),(191,-0.3),(193,-1.8),(194,0.0),(196,-2.3),(197,-0.5),(198,-1.5),(200,0.9),(201,-1.2),(203,-2.0),(204,-0.2),(206,-1.5),(207,0.4),(209,-1.8),(210,1.2),(211,-0.6),(213,-1.3),(214,0.3),(216,-1.0),(217,0.5),(218,1.2),(219,-0.6),(221,0.2),(222,-0.8),(224,0.6),(225,-0.3),(226,1.1),(228,0.0),(229,0.5),(231,-0.2),(232,0.7),(234,0.2),(236,0.8),(238,0.4),(240,0.9),(243,0.5),(246,0.8),(249,0.9),(252,0.6),(255,0.8),(258,0.5),(261,0.7),(264,0.5),(267,0.7),(270,0.55),(273,0.75),(276,0.55),(280,0.5),(285,0.6),(290,0.45),(295,0.5),(300,0.45),(310,0.45),(320,0.4),(326,0.4),(327,0.05),(333,0.05),(335,0.3),(340,0.35),(350,0.35),(360,0.3),(363,0.0),(365,0.0)]
sm06_mdmr_nee = [(140,-0.3),(145,-0.6),(150,-0.9),(155,-1.2),(160,-1.5),(165,-1.8),(170,-2.2),(175,-2.6),(178,-3.1),(181,-2.4),(184,-1.6),(187,-2.2),(190,-1.4),(193,-2.0),(196,-2.6),(199,-1.8),(202,-2.4),(205,-1.5),(208,-1.9),(211,-1.1),(214,-1.6),(217,-0.9),(220,-1.2),(223,-0.6),(226,-0.9),(229,-0.4),(232,-0.2),(235,0.1),(240,0.3),(245,0.2),(250,0.4),(260,0.3),(270,0.35),(280,0.3),(290,0.2),(300,0.1),(310,0.05),(320,0.05),(330,0.0),(340,0.05),(350,0.0)]
sm07_tcf_nee = [(60,0.18),(70,0.15),(80,0.1),(85,0.0),(90,-0.2),(94,-0.6),(97,-0.9),(99,-0.3),(102,-0.7),(105,-0.2),(108,-0.6),(111,0.0),(114,-0.5),(117,0.1),(120,-0.3),(124,0.2),(127,0.0),(130,0.2),(133,0.3),(136,-0.2),(140,0.0),(145,-0.3),(150,-0.6),(155,-0.8),(160,-1.0),(165,-1.3),(170,-1.6),(175,-1.8),(180,-2.0),(185,-1.5),(190,-1.8),(195,-1.2),(200,-1.5),(205,-0.9),(210,-1.2),(215,-0.6),(220,-1.0),(225,-0.6),(228,-1.2),(231,-0.5),(234,0.2),(238,0.6),(241,1.25),(244,0.9),(247,1.1),(250,0.9),(255,0.7),(260,0.6),(270,0.5),(280,0.4),(290,0.3),(300,0.2),(310,0.15),(320,0.1),(330,0.1),(340,0.1),(350,0.05),(360,0.05)]

# Axis ticks per panel
ticks_x = {
    "LR 03": [200, 220, 240, 260, 280, 300], "ZK 08": [150, 200, 250, 300], "BA 07": [160, 180, 200, 220, 240],
    "LR 06": [160, 180, 200, 220, 240, 260], "ZK 09": [100, 150, 200, 250, 300], "BA 09": [230, 250, 270, 290],
    "SK 05": [50, 100, 150, 200, 250, 300, 350], "KY 09": [160, 180, 200, 220], "SM 06": [50, 100, 150, 200, 250, 300, 350],
}
ticks_y_small = [-2, 0, 2, 4]
ticks_y_wide = [-4, -2, 0, 2, 4]

# ---------------- styling / layout ----------------
W, H = 635, 688
SERIF = "Liberation Serif"
GRAY = "#a9a9a9"
DARK = "#3f3f3f"
RED = "#ff0000"
BLUE = "#0000ff"
PINK = "#ffb3b3"
LIGHTBLUE = "#5aaeff"
INK = "#222222"

COLS = [(61, 231), (262, 433), (464, 638)]
ROWS = [(67, 237), (268, 439), (470, 641)]

panels = [
    dict(label="LR 03", r=0, c=0, xr=[186, 308], yr=[-3.28, 4.79], yt=ticks_y_small,
         pts=[lr03_site_reco, lr03_site_nee], lines=[lr03_mdmr_reco, lr03_tcf_reco, lr03_mdmr_nee, lr03_tcf_nee]),
    dict(label="ZK 08", r=0, c=1, xr=[143.6, 317.7], yr=[-4.86, 5.34], yt=ticks_y_wide,
         pts=[zk08_site_reco, zk08_site_nee], lines=[zk08_mdmr_reco, zk08_tcf_reco, zk08_mdmr_nee, zk08_tcf_nee]),
    dict(label="BA 07", r=0, c=2, xr=[152.2, 251], yr=[-4.3, 4.3], yt=ticks_y_wide,
         pts=[ba07_site_reco, ba07_site_nee], lines=[ba07_mdmr_reco, ba07_tcf_reco, ba07_mdmr_nee, ba07_tcf_nee]),
    dict(label="LR 06", r=1, c=0, xr=[154.4, 264.8], yr=[-3.31, 4.79], yt=ticks_y_small,
         pts=[lr06_site_reco, lr06_site_nee], lines=[lr06_mdmr_reco, lr06_tcf_reco, lr06_mdmr_nee, lr06_tcf_nee]),
    dict(label="ZK 09", r=1, c=1, xr=[91.2, 316], yr=[-4.9, 5.36], yt=ticks_y_wide,
         pts=[zk09_site_reco, zk09_site_nee], lines=[zk09_mdmr_reco, zk09_tcf_reco, zk09_mdmr_nee, zk09_tcf_nee]),
    dict(label="BA 09", r=1, c=2, xr=[222.2, 297.2], yr=[-4.3, 4.3], yt=ticks_y_wide,
         pts=[ba09_site_reco, ba09_site_nee], lines=[None, ba09_tcf_reco, None, ba09_tcf_nee]),
    dict(label="SK 05", r=2, c=0, xr=[38.7, 363.2], yr=[-3.26, 4.82], yt=ticks_y_small,
         pts=[sk05_site_reco, sk05_site_nee], lines=[sk05_mdmr_reco, None, sk05_mdmr_nee, sk05_tcf_nee]),
    dict(label="KY 09", r=2, c=1, xr=[151.8, 230.8], yr=[-4.38, 5.86], yt=ticks_y_wide,
         pts=[ky09_site_reco, ky09_site_nee], lines=[ky09_mdmr_reco, ky09_tcf_reco, ky09_mdmr_nee, ky09_tcf_nee]),
    dict(label="SM 06<br>07", key="SM 06", r=2, c=2, xr=[49, 368.7], yr=[-3.3, 5.31], yt=ticks_y_small,
         pts=[None, None], lines=[sm06_mdmr_reco, sm06_tcf_reco, sm06_mdmr_nee, sm06_tcf_nee],
         extra=[(sm07_tcf_reco, PINK), (sm07_tcf_nee, LIGHTBLUE)]),
]

LINE_STYLES = [(RED, "dot"), (RED, "solid"), (BLUE, "dot"), (BLUE, "solid")]

fig = go.Figure()
shapes, annotations = [], []
layout_axes = {}


def px_x(v):
    return v / W


def px_y(v):
    return 1 - v / H


for i, p in enumerate(panels, start=1):
    xa = "x" if i == 1 else f"x{i}"
    ya = "y" if i == 1 else f"y{i}"
    left, right = COLS[p["c"]]
    top, bottom = ROWS[p["r"]]
    dom_x = [px_x(left), min(1.0, px_x(right))]
    dom_y = [px_y(bottom), px_y(top)]
    xt = ticks_x[p.get("key", p["label"])]
    yt = p["yt"]
    axis_font = dict(family=SERIF, size=12, color=INK)

    layout_axes["xaxis" if i == 1 else f"xaxis{i}"] = dict(
        domain=dom_x, range=p["xr"], anchor="free", position=px_y(bottom + 4),
        tickvals=xt, ticktext=[str(v) for v in xt], ticks="outside", ticklen=4,
        tickwidth=1, tickcolor=INK, showgrid=False, zeroline=False, showline=False,
        tickfont=axis_font, fixedrange=True)
    layout_axes["yaxis" if i == 1 else f"yaxis{i}"] = dict(
        domain=dom_y, range=p["yr"], anchor="free", position=px_x(left - 4),
        tickvals=yt, ticktext=[str(v) for v in yt], tickangle=-90, ticks="outside",
        ticklen=4, tickwidth=1, tickcolor=INK, showgrid=False, zeroline=False,
        showline=False, tickfont=axis_font, fixedrange=True)

    # secondary-year series drawn underneath
    for series, color in p.get("extra", []):
        fig.add_trace(go.Scatter(x=[d for d, _ in series], y=[v for _, v in series], mode="lines",
                                 line=dict(color=color, width=2), xaxis=xa, yaxis=ya,
                                 showlegend=False, hoverinfo="skip"))

    # site observations
    for series, color in zip(p["pts"], [GRAY, DARK]):
        if series is None:
            continue
        fig.add_trace(go.Scatter(x=[d for d, _ in series], y=[v for _, v in series], mode="markers",
                                 marker=dict(color=color, size=6.5), xaxis=xa, yaxis=ya,
                                 showlegend=False, hoverinfo="skip"))

    # TCF model lines
    for series, (color, dash) in zip(p["lines"], LINE_STYLES):
        if series is None:
            continue
        fig.add_trace(go.Scatter(x=[d for d, _ in series], y=[v for _, v in series], mode="lines",
                                 line=dict(color=color, width=2, dash=dash), xaxis=xa, yaxis=ya,
                                 showlegend=False, hoverinfo="skip"))

    # panel frame
    shapes.append(dict(type="rect", xref="paper", yref="paper", x0=px_x(left), x1=px_x(right),
                       y0=dom_y[0], y1=dom_y[1], line=dict(color=INK, width=1.2)))
    # axis lines spanning the tick range
    shapes.append(dict(type="line", xref=xa, yref="paper", x0=xt[0], x1=xt[-1],
                       y0=px_y(bottom + 4), y1=px_y(bottom + 4), line=dict(color=INK, width=1)))
    shapes.append(dict(type="line", xref="paper", yref=ya, x0=px_x(left - 4), x1=px_x(left - 4),
                       y0=yt[0], y1=yt[-1], line=dict(color=INK, width=1)))
    # panel name
    annotations.append(dict(text=p["label"], xref="paper", yref="paper",
                            x=px_x(right - 3 if p["c"] < 2 else 639), y=px_y(top + 2),
                            xanchor="right", yanchor="top", align="right", showarrow=False,
                            font=dict(family=SERIF, size=16, color="#111")))

# ---------------- legend (two rows) ----------------
NB = "\u00a0"
leg_font = dict(family=SERIF, size=14, color="#111")
legend_rows = [
    (24, [f"Site R<sub>eco</sub>", f"TCF R<sub>eco</sub>,{NB}{NB}In situ", f"TCF R<sub>eco</sub>,{NB}{NB}MDMR"], GRAY, RED),
    (50, [f"Site R<sub>eco</sub>", f"TCF NEE,{NB}In situ", f"TCF NEE,{NB}MDMR"], DARK, BLUE),
]
for yy, texts, dot_color, line_color in legend_rows:
    for text, xx in zip(texts, [66, 152, 315]):
        annotations.append(dict(text=text, xref="paper", yref="paper", x=px_x(xx), y=px_y(yy),
                                xanchor="left", yanchor="middle", showarrow=False, font=leg_font))
    shapes.append(dict(type="circle", xref="paper", yref="paper", fillcolor=dot_color,
                       line=dict(color=dot_color, width=0),
                       x0=px_x(124.5), x1=px_x(131.5), y0=px_y(yy + 5), y1=px_y(yy - 2)))
    shapes.append(dict(type="line", xref="paper", yref="paper", x0=px_x(276), x1=px_x(301),
                       y0=px_y(yy + 3), y1=px_y(yy + 3), line=dict(color=line_color, width=3)))
    shapes.append(dict(type="line", xref="paper", yref="paper", x0=px_x(443), x1=px_x(468),
                       y0=px_y(yy + 3), y1=px_y(yy + 3), line=dict(color=line_color, width=2, dash="dot")))

# axis titles
annotations.append(dict(text="g C m<sup>-2</sup> d<sup>-1</sup>", xref="paper", yref="paper",
                        x=px_x(17), y=px_y(355), textangle=-90, showarrow=False,
                        xanchor="center", yanchor="middle", font=dict(family=SERIF, size=14, color="#111")))
annotations.append(dict(text="Julian Day", xref="paper", yref="paper", x=px_x(340), y=px_y(676),
                        showarrow=False, xanchor="center", yanchor="middle",
                        font=dict(family=SERIF, size=16, color="#111")))

fig.update_layout(width=W, height=H, margin=dict(l=0, r=0, t=0, b=0),
                  paper_bgcolor="white", plot_bgcolor="white", showlegend=False,
                  shapes=shapes, annotations=annotations, **layout_axes)

fig.write_html("out.html", config={"displayModeBar": False})
